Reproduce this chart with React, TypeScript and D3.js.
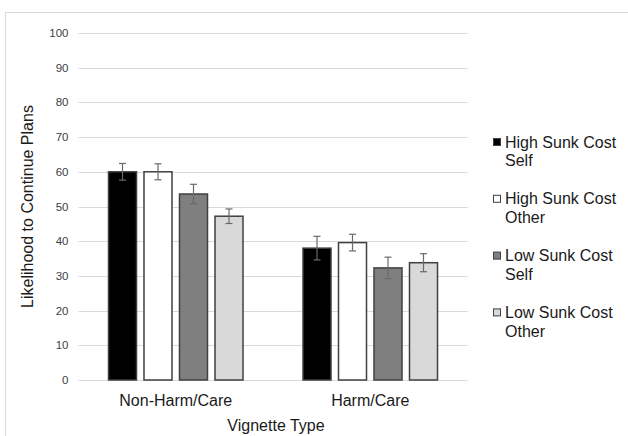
import React from "react";
import * as d3 from "d3";

const categories = ["Non-Harm/Care", "Harm/Care"];
const seriesNames = ["High Sunk Cost Self", "High Sunk Cost Other", "Low Sunk Cost Self", "Low Sunk Cost Other"];
const seriesColors = ["#000000", "#ffffff", "#7f7f7f", "#d9d9d9"];
const highSelf = [60.0, 38.0];
const highOther = [60.0, 39.6];
const lowSelf = [53.6, 32.3];
const lowOther = [47.2, 33.8];
const highSelfErr = [2.4, 3.4];
const highOtherErr = [2.3, 2.4];
const lowSelfErr = [2.8, 3.1];
const lowOtherErr = [2.1, 2.6];
const yTicks = [0, 10, 20, 30, 40, 50, 60, 70, 80, 90, 100];

const values = [highSelf, highOther, lowSelf, lowOther];
const errors = [highSelfErr, highOtherErr, lowSelfErr, lowOtherErr];

export default function App() {
  const W = 628, H = 436;
  const y = d3.scaleLinear().domain([0, 100]).range([380, 33]);
  const x0 = d3.scaleBand<string>().domain(categories).range([78.5, 467.5]).padding(0);
  const x1 = d3.scaleBand<string>().domain(seriesNames).range([0, x0.bandwidth()]).paddingInner(0.211).paddingOuter(0.845);
  const font = "Arial, 'Liberation Sans', sans-serif";
  const legendY = (i: number) => 142 + i * 56.8;

  return (
    <div style={{ position: "absolute", left: 0, top: 0 }}>
      <svg width={W} height={H} style={{ display: "block" }}>
        <rect x={0} y={0} width={W} height={H} fill="#fff" />
        <path d={`M5.5,${H}V12.5H${W}`} fill="none" stroke="#d9d9d9" strokeWidth={1} />
        {yTicks.map((t) => (
          <g key={t}>
            <line x1={78.5} x2={467.5} y1={Math.round(y(t)) + 0.5} y2={Math.round(y(t)) + 0.5} stroke="#d9d9d9" strokeWidth={1} />
            <text x={68.5} y={y(t)} dy="0.35em" textAnchor="end" fontFamily={font} fontSize={11.5} fill="#404040">{t}</text>
          </g>
        ))}
        {categories.map((c, ci) => (
          <g key={c} transform={`translate(${x0(c)},0)`}>
            {seriesNames.map((s, si) => {
              const v = values[si][ci];
              const e = errors[si][ci];
              const bx = x1(s)!;
              const cx = bx + x1.bandwidth() / 2;
              return (
                <g key={s}>
                  <rect x={bx} y={y(v)} width={x1.bandwidth()} height={y(0) - y(v)} fill={seriesColors[si]} stroke="#404040" strokeWidth={1.5} />
                  <g stroke="#6a6a6a" strokeWidth={1.2}>
                    <line x1={cx} x2={cx} y1={y(v + e)} y2={y(v - e)} />
                    <line x1={cx - 3.5} x2={cx + 3.5} y1={y(v + e)} y2={y(v + e)} />
                    <line x1={cx - 3.5} x2={cx + 3.5} y1={y(v - e)} y2={y(v - e)} />
                  </g>
                </g>
              );
            })}
            <text x={x0.bandwidth() / 2} y={400} dy="0.35em" textAnchor="middle" fontFamily={font} fontSize={16} fill="#1a1a1a">{c}</text>
          </g>
        ))}
        <text x={(78.5 + 467.5) / 2 + 3} y={425} dy="0.35em" textAnchor="middle" fontFamily={font} fontSize={16} fill="#1a1a1a">Vignette Type</text>
        <text transform={`translate(27.5,${(y(0) + y(100)) / 2}) rotate(-90)`} dy="0.35em" textAnchor="middle" fontFamily={font} fontSize={16} fill="#1a1a1a">Likelihood to Continue Plans</text>
        {seriesNames.map((s, i) => {
          const idx = s.lastIndexOf(" ");
          const l1 = s.slice(0, idx);
          const l2 = s.slice(idx + 1);
          const ly = legendY(i);
          return (
            <g key={s}>
              <rect x={493.5} y={ly - 3.5} width={7} height={7} fill={seriesColors[i]} stroke="#404040" strokeWidth={1} />
              <text x={505} y={ly} dy="0.35em" fontFamily={font} fontSize={16} fill="#1a1a1a">{l1}</text>
              <text x={505} y={ly + 18.5} dy="0.35em" fontFamily={font} fontSize={16} fill="#1a1a1a">{l2}</text>
            </g>
          );
        })}
      </svg>
    </div>
  );
}
